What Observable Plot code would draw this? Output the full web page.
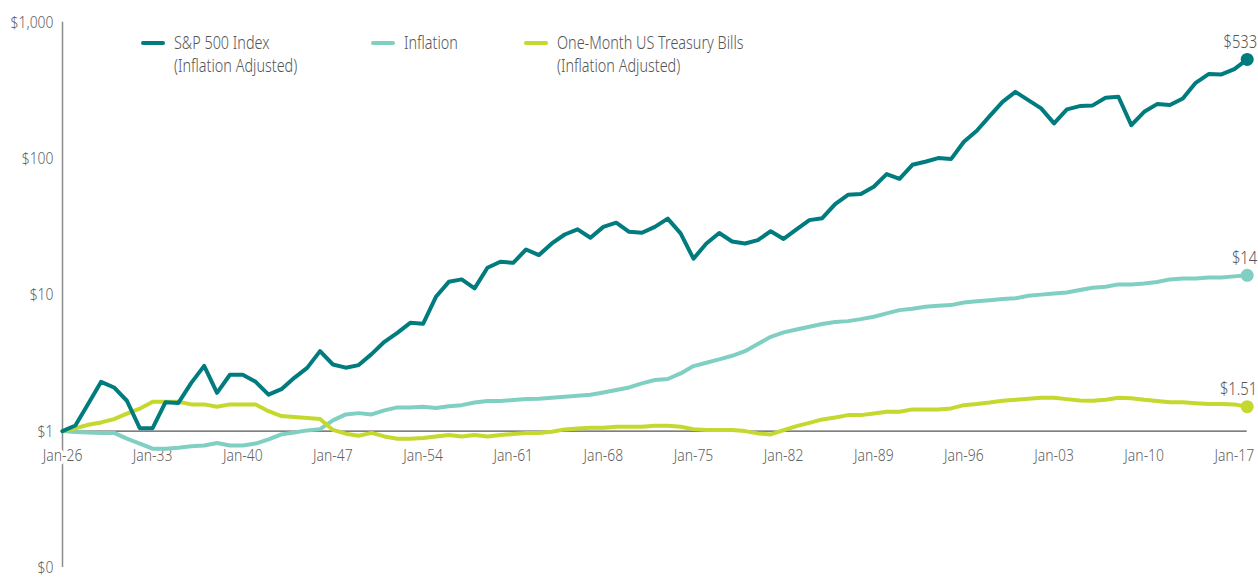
<!DOCTYPE html>
<html><head><meta charset="utf-8">
<script src="https://cdn.jsdelivr.net/npm/d3@7"></script>
<script src="https://cdn.jsdelivr.net/npm/@observablehq/plot@0.6"></script>
<style>
body{margin:0;background:#fff;font-family:"Noto Sans","DejaVu Sans Condensed",sans-serif;}
#wrap{position:relative;width:1258px;height:577px;}
.legend-item{position:absolute;top:31px;color:#555;font-size:18px;font-weight:300;line-height:23px;padding-left:33px;white-space:nowrap;}
.legend-text{transform:scaleX(0.8);transform-origin:0 50%;}
.swatch{position:absolute;left:0;top:10px;width:24px;height:4px;border-radius:2px;}
</style></head><body><div id="wrap"></div>
<script>
// Annual points: Jan-1926 start, then each year-end through Dec-2017
const startYear = 1926;
const sp500 = [
  1.00, 1.10, 1.59, 2.30, 2.09, 1.67, 1.05, 1.05, 1.63, 1.61,
  2.26, 3.01, 1.91, 2.59, 2.59, 2.30, 1.85, 2.03, 2.46, 2.91,
  3.86, 3.08, 2.92, 3.05, 3.67, 4.52, 5.26, 6.23, 6.13, 9.67,
  12.45, 12.97, 11.14, 15.78, 17.46, 17.17, 21.5, 19.56, 23.8, 27.7,
  30.2, 26.2, 31.5, 33.8, 29.0, 28.5, 31.5, 36.2, 28.2, 18.4,
  23.8, 28.4, 24.6, 23.8, 25.2, 29.3, 25.7, 30.2, 35.3, 36.5,
  46.3, 54.2, 54.8, 62.0, 76.8, 71.0, 89.9, 94.6, 100.7, 99.0,
  132.7, 159.7, 204.7, 260.6, 308.4, 268.2, 233.2, 181.0, 229.2, 242.3,
  245.3, 278.7, 283.6, 175.8, 220.2, 250.7, 246.5, 276.0, 359.3, 416,
  414, 453, 533
];
const inflation = [
  1.00, 0.985, 0.975, 0.97, 0.97, 0.88, 0.81, 0.743, 0.743, 0.756,
  0.773, 0.785, 0.817, 0.785, 0.785, 0.81, 0.869, 0.946, 0.978, 1.012,
  1.034, 1.198, 1.326, 1.355, 1.326, 1.419, 1.492, 1.49, 1.51, 1.48,
  1.52, 1.55, 1.62, 1.66, 1.66, 1.69, 1.72, 1.73, 1.76, 1.79,
  1.82, 1.85, 1.92, 2.00, 2.09, 2.24, 2.37, 2.41, 2.65, 3.00,
  3.17, 3.36, 3.57, 3.86, 4.35, 4.92, 5.30, 5.57, 5.83, 6.10,
  6.31, 6.41, 6.63, 6.90, 7.30, 7.72, 7.89, 8.17, 8.30, 8.40,
  8.77, 8.96, 9.11, 9.30, 9.43, 9.83, 10.03, 10.22, 10.40, 10.83,
  11.26, 11.45, 11.92, 11.92, 12.12, 12.40, 12.97, 13.19, 13.19, 13.42,
  13.42, 13.65, 13.9
];
const tbills = [
  1.00, 1.047, 1.114, 1.158, 1.225, 1.342, 1.46, 1.64, 1.64, 1.64,
  1.57, 1.57, 1.51, 1.57, 1.57, 1.57, 1.40, 1.29, 1.27, 1.25,
  1.225, 1.02, 0.957, 0.925, 0.97, 0.914, 0.88, 0.88, 0.89, 0.914,
  0.935, 0.914, 0.935, 0.914, 0.935, 0.951, 0.967, 0.967, 0.988, 1.029,
  1.046, 1.057, 1.057, 1.075, 1.075, 1.075, 1.094, 1.094, 1.075, 1.034,
  1.017, 1.017, 1.017, 1.00, 0.962, 0.946, 1.017, 1.088, 1.15, 1.218,
  1.26, 1.31, 1.31, 1.348, 1.386, 1.386, 1.443, 1.443, 1.443, 1.467,
  1.55, 1.58, 1.62, 1.67, 1.70, 1.73, 1.755, 1.755, 1.716, 1.674,
  1.67, 1.70, 1.755, 1.745, 1.70, 1.666, 1.627, 1.625, 1.60, 1.578,
  1.578, 1.57, 1.51
];
const seriesNames = ["S&P 500 Index (Inflation Adjusted)", "Inflation", "One-Month US Treasury Bills (Inflation Adjusted)"];
const legendLines = [["S&P 500 Index", "(Inflation Adjusted)"], ["Inflation"], ["One-Month US Treasury Bills", "(Inflation Adjusted)"]];
const seriesColors = ["#007B7E", "#80CFC3", "#C4D82E"];
const endLabels = ["$533", "$14", "$1.51"];
const xTicks = [1926, 1933, 1940, 1947, 1954, 1961, 1968, 1975, 1982, 1989, 1996, 2003, 2010, 2017];
const xTickLabels = ["Jan-26","Jan-33","Jan-40","Jan-47","Jan-54","Jan-61","Jan-68","Jan-75","Jan-82","Jan-89","Jan-96","Jan-03","Jan-10","Jan-17"];
const yTicks = [0.1, 1, 10, 100, 1000];
const yTickLabels = ["$0", "$1", "$10", "$100", "$1,000"];

const FONT = '"Noto Sans","DejaVu Sans Condensed",sans-serif';
const TEXT_SQUEEZE = 0.82; // emulate the condensed face of the original
const seriesValues = [sp500, inflation, tbills];
const table = [];
seriesValues.forEach((vals, s) => vals.forEach((v, i) => table.push({series: seriesNames[s], year: startYear + i, value: v})));
const ends = seriesValues.map((vals, s) => ({series: seriesNames[s], year: startYear + vals.length - 1, value: vals[vals.length - 1], label: endLabels[s]}));
const drawOrder = [1, 2, 0];

const chart = Plot.plot({
  width: 1258, height: 577,
  marginLeft: 62, marginRight: 11.3, marginTop: 21.7, marginBottom: 10.1,
  style: {fontFamily: FONT, fontSize: "17px", fontWeight: 300, color: "#5f5f5f", background: "transparent", overflow: "visible"},
  x: {domain: [1926, 2018], axis: null},
  y: {type: "log", domain: [0.1, 1000], axis: null},
  color: {domain: seriesNames, range: seriesColors},
  marks: [
    Plot.ruleX([1926], {y1: 0.1, y2: 1000, stroke: "#8c8c8c", strokeWidth: 1.5}),
    Plot.ruleY([1], {x1: 1926, x2: 2018, stroke: "#555", strokeWidth: 1.2}),
    Plot.axisY({ticks: yTicks, tickFormat: d => yTickLabels[yTicks.indexOf(d)], tickSize: 0, tickPadding: 9, fontSize: 17, fill: "#5f5f5f", label: null}),
    Plot.text(xTicks, {x: d => d, y: () => 1, text: (d, i) => xTickLabels[i], dy: 24, fontSize: 17, fill: "#5f5f5f", stroke: "white", strokeWidth: 7}),
    ...drawOrder.map(s => Plot.line(table.filter(d => d.series === seriesNames[s]), {x: "year", y: "value", stroke: "series", strokeWidth: 4, strokeLinejoin: "round"})),
    Plot.dot(ends, {x: "year", y: "value", fill: "series", r: 6.5}),
    Plot.text(ends, {x: "year", y: "value", text: "label", textAnchor: "end", dx: 10, dy: -17, fontSize: 18, fill: "#555"})
  ]
});
// squeeze each text horizontally around its own anchor point
chart.querySelectorAll("text").forEach(t => {
  const tr = t.getAttribute("transform");
  if (tr && /translate/.test(tr)) {
    t.setAttribute("transform", tr + ` scale(${TEXT_SQUEEZE},1)`);
  } else {
    const x = +(t.getAttribute("x") || 0), y = +(t.getAttribute("y") || 0);
    t.removeAttribute("x"); t.removeAttribute("y");
    t.setAttribute("transform", `${tr || ""} translate(${x},${y}) scale(${TEXT_SQUEEZE},1)`);
  }
});
const wrap = document.getElementById("wrap");
wrap.appendChild(chart);

const legendLefts = [141, 371, 524];
legendLines.forEach((lines, i) => {
  const item = document.createElement("div");
  item.className = "legend-item";
  item.style.left = legendLefts[i] + "px";
  const sw = document.createElement("span");
  sw.className = "swatch";
  sw.style.background = seriesColors[i];
  item.appendChild(sw);
  lines.forEach(t => { const l = document.createElement("div"); l.className = "legend-text"; l.textContent = t; item.appendChild(l); });
  wrap.appendChild(item);
});
</script>
</body></html>
